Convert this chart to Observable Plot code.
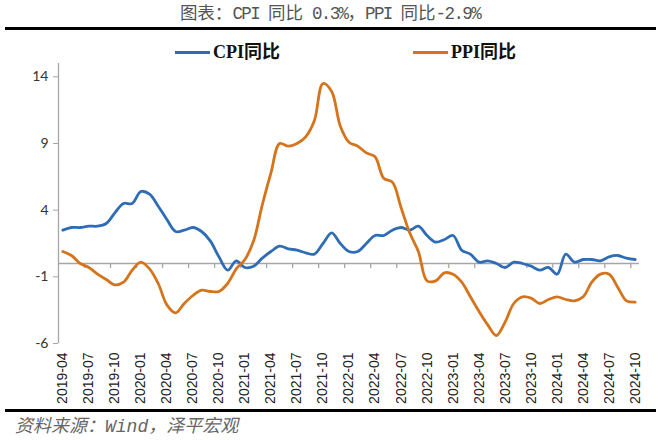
<!DOCTYPE html>
<html><head><meta charset="utf-8">
<script src="https://cdn.jsdelivr.net/npm/d3@7"></script>
<script src="https://cdn.jsdelivr.net/npm/@observablehq/plot@0.6"></script>
<style>
body{margin:0;background:#fff;}
#wrap{position:relative;width:660px;height:440px;overflow:hidden;background:#fff;}
#title{position:absolute;top:3px;left:0;width:660px;text-align:center;font-size:17.5px;line-height:22px;font-family:"Liberation Mono","Noto Sans CJK SC",monospace;color:#555;white-space:pre;}
#title .l, #foot .l{letter-spacing:-1.6px;}
.rule{position:absolute;left:5px;width:651px;height:3px;background:#000;}
.leg{position:absolute;top:40px;font-weight:bold;font-size:18px;line-height:24px;font-family:"Liberation Serif","Noto Sans CJK SC",serif;color:#111;white-space:nowrap;}
.leg span{display:inline-block;width:35px;height:3px;vertical-align:middle;margin-right:3px;position:relative;top:-1px;}
#foot{position:absolute;top:416px;left:15px;font-size:18px;line-height:22px;font-style:italic;font-family:"Liberation Mono","Noto Sans CJK SC",monospace;color:#666;white-space:pre;}
#chart{position:absolute;top:56px;left:0;}
</style>
</head><body>
<div id="wrap">
  <div id="title">图表：<span class="l">CPI </span>同比<span class="l"> 0.3%</span>，<span class="l">PPI </span>同比<span class="l">-2.9%</span></div>
  <div class="rule" style="top:27px"></div>
  <div class="leg" style="left:175px"><span style="background:#2e6db5"></span>CPI同比</div>
  <div class="leg" style="left:413px"><span style="background:#d6741c"></span>PPI同比</div>
  <div id="chart"></div>
  <div class="rule" style="top:409px"></div>
  <div id="foot">资料来源：Wind，泽平宏观</div>
</div>
<script>
const months = [
  "2019-04","2019-05","2019-06","2019-07","2019-08","2019-09","2019-10","2019-11","2019-12",
  "2020-01","2020-02","2020-03","2020-04","2020-05","2020-06","2020-07","2020-08","2020-09","2020-10","2020-11","2020-12",
  "2021-01","2021-02","2021-03","2021-04","2021-05","2021-06","2021-07","2021-08","2021-09","2021-10","2021-11","2021-12",
  "2022-01","2022-02","2022-03","2022-04","2022-05","2022-06","2022-07","2022-08","2022-09","2022-10","2022-11","2022-12",
  "2023-01","2023-02","2023-03","2023-04","2023-05","2023-06","2023-07","2023-08","2023-09","2023-10","2023-11","2023-12",
  "2024-01","2024-02","2024-03","2024-04","2024-05","2024-06","2024-07","2024-08","2024-09","2024-10"
];
const cpi = [
  2.5,2.7,2.7,2.8,2.8,3.0,3.8,4.5,4.5,
  5.4,5.2,4.3,3.3,2.4,2.5,2.7,2.4,1.7,0.5,-0.5,0.2,
  -0.3,-0.2,0.4,0.9,1.3,1.1,1.0,0.8,0.7,1.5,2.3,1.5,
  0.9,0.9,1.5,2.1,2.1,2.5,2.7,2.5,2.8,2.1,1.6,1.8,
  2.1,1.0,0.7,0.1,0.2,0.0,-0.3,0.1,0.0,-0.2,-0.5,-0.3,
  -0.8,0.7,0.1,0.3,0.3,0.2,0.5,0.6,0.4,0.3
];
const ppi = [
  0.9,0.6,0.0,-0.3,-0.8,-1.2,-1.6,-1.4,-0.5,
  0.1,-0.4,-1.5,-3.1,-3.7,-3.0,-2.4,-2.0,-2.1,-2.1,-1.5,-0.4,
  0.3,1.7,4.4,6.8,9.0,8.8,9.0,9.5,10.7,13.5,12.9,10.3,
  9.1,8.8,8.3,8.0,6.4,6.1,4.2,2.3,0.9,-1.3,-1.3,-0.7,
  -0.8,-1.4,-2.5,-3.6,-4.6,-5.4,-4.4,-3.0,-2.5,-2.6,-3.0,-2.7,
  -2.5,-2.7,-2.8,-2.5,-1.4,-0.8,-0.8,-1.8,-2.8,-2.9
];
const yTicks = [-6, -1, 4, 9, 14];
const labelIdx = months.map((m, i) => i).filter(i => i % 3 === 0);
const boundaryTicks = labelIdx.map(i => i + 2.5).filter(v => v < months.length);

const axisColor = "#a6a6a6";
const chart = Plot.plot({
  width: 660,
  height: 350,
  marginLeft: 58,
  marginRight: 21,
  marginTop: 7,
  marginBottom: 63,
  style: {fontFamily: "Liberation Sans, Arial, sans-serif", fontSize: "13px", color: "#222", background: "transparent"},
  x: {domain: [-0.5, months.length - 0.5], axis: null},
  y: {domain: [-6, 15], axis: null},
  marks: [
    Plot.ruleY([0], {stroke: axisColor, strokeWidth: 1.3}),
    Plot.ruleX([-0.5], {stroke: axisColor, strokeWidth: 1.3}),
    Plot.ruleX(boundaryTicks, {x: d => d, y1: 0, y2: -0.38, stroke: axisColor, strokeWidth: 1.3}),
    Plot.axisY({ticks: yTicks, tickSize: 5, tickPadding: 5, stroke: axisColor, fill: "#333", fontSize: 14, fontFamily: "Lato, Liberation Sans, sans-serif", tickFormat: d => String(d)}),
    Plot.axisX({ticks: labelIdx, tickFormat: i => months[i], tickRotate: -90, tickSize: 0, tickPadding: 9, fill: "#222", fontSize: 14}),
    Plot.lineY(cpi, {x: (d, i) => i, y: d => d, curve: "catmull-rom", stroke: "#2e6db5", strokeWidth: 2.8}),
    Plot.lineY(ppi, {x: (d, i) => i, y: d => d, curve: "catmull-rom", stroke: "#d6741c", strokeWidth: 2.8})
  ]
});
document.getElementById("chart").appendChild(chart);
</script>
</body></html>
